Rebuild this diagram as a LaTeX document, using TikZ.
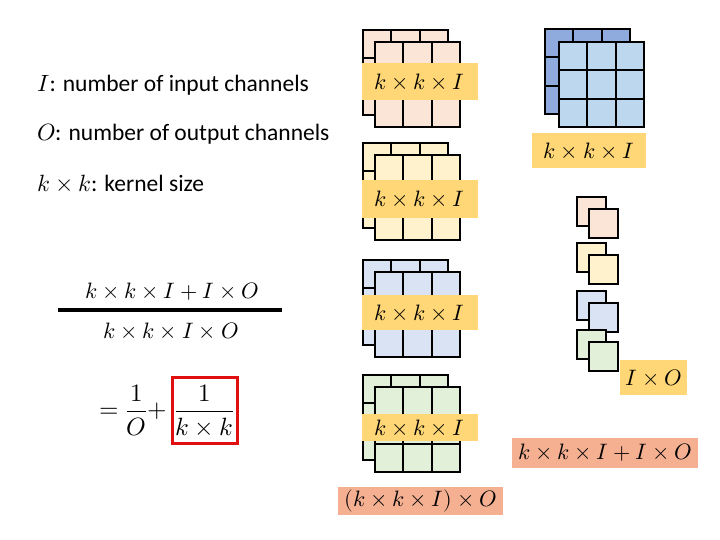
\documentclass[tikz,border=0pt]{standalone}
\usepackage{fontspec}
\usepackage{unicode-math}
\setmainfont{Carlito}
\usetikzlibrary{positioning}
\definecolor{peach}{HTML}{FBE5D6}
\definecolor{butter}{HTML}{FFF2CC}
\definecolor{skyblue}{HTML}{DAE3F3}
\definecolor{sage}{HTML}{E2F0D9}
\definecolor{deepblue}{HTML}{8FAADC}
\definecolor{paleblue}{HTML}{BDD7EE}
\definecolor{labelgold}{HTML}{FFD777}
\definecolor{costsalmon}{HTML}{F5B092}
\definecolor{boxred}{HTML}{E01010}
\tikzset{
  cellline/.style={draw=black,line width=2pt},
  pics/kgrid/.style={code={
    \draw[cellline,fill=#1] (0,0) rectangle (85,85);
    \draw[cellline] (85/3,0) -- (85/3,85) (170/3,0) -- (170/3,85)
      (0,85/3) -- (85,85/3) (0,170/3) -- (85,170/3);
  }},
  smallsq/.style={draw=black,line width=2pt},
  dimlabel/.style={rectangle,fill=labelgold,inner sep=0pt,font=\fontsize{22.3}{26}\selectfont},
  costlabel/.style={dimlabel,fill=costsalmon},
  legend/.style={anchor=west,inner sep=0pt,font=\fontsize{23.5}{27}\selectfont},
  formula/.style={inner sep=0pt,font=\fontsize{22.3}{26}\selectfont},
  fracbar/.style={line width=3.5pt},
  highlight/.style={draw=boxred,line width=3pt,inner sep=0pt,minimum width=65pt,minimum height=66pt}
}
\begin{document}
\begin{tikzpicture}[x=1pt,y=-1pt]
  \useasboundingbox (0,0) rectangle (720,540);

  % notation
  \node[legend] (nI) at (37,85) {$I$: number of input channels};
  \node[legend] (nO) at (37,134) {$O$: number of output channels};
  \node[legend] (nk) at (37,183) {$k\times k$: kernel size};

  % ratio of costs
  \node[formula] (num) at (172,292) {$k\times k\times I+I\times O$};
  \coordinate (barl) at (58,310);
  \coordinate (barr) at (282,310);
  \draw[fracbar] (barl) -- (barr);
  \node[formula] (den) at (171,331) {$k\times k\times I\times O$};
  \node[formula,anchor=east,font=\fontsize{25}{29}\selectfont] (eq) at (167,410) {$=\dfrac{1}{O}+$};
  \node[highlight,formula,font=\fontsize{25}{29}\selectfont] (boxfrac) at (204.5,410) {$\dfrac{1}{k\times k}$};

  % standard convolution: O kernels
  \foreach \ytop/\col/\lc/\lh [count=\n] in {30/peach/81.5/37, 143/butter/199/38,
      260/skyblue/312.5/35, 375/sage/427.5/27}{
    \pic at (363,\ytop) {kgrid=\col};
    \pic at (375,\ytop+12) {kgrid=\col};
    \node[dimlabel,minimum width=116pt,minimum height=\lh pt] (kk\n) at (419.5,\lc) {$k\times k\times I$};
  }
  \node[costlabel,minimum width=165pt,minimum height=28pt] (stdcost) at (420.5,501) {$(k\times k\times I)\times O$};

  % depthwise kernel
  \pic at (545,29) {kgrid=deepblue};
  \pic at (559,42) {kgrid=paleblue};
  \node[dimlabel,minimum width=114pt,minimum height=35pt] (dwlabel) at (589,150.5) {$k\times k\times I$};

  % pointwise kernels
  \foreach \yb/\col in {197/peach, 243/butter, 291/skyblue, 330/sage}{
    \draw[smallsq,fill=\col] (577,\yb) rectangle ++(29,29);
    \draw[smallsq,fill=\col] (589,\yb+12) rectangle ++(29,29);
  }
  \node[dimlabel,minimum width=67pt,minimum height=35pt] (pwlabel) at (653.5,377.5) {$I\times O$};
  \node[costlabel,minimum width=186pt,minimum height=30pt] (sepcost) at (605,453) {$k\times k\times I+I\times O$};
\end{tikzpicture}
\end{document}
